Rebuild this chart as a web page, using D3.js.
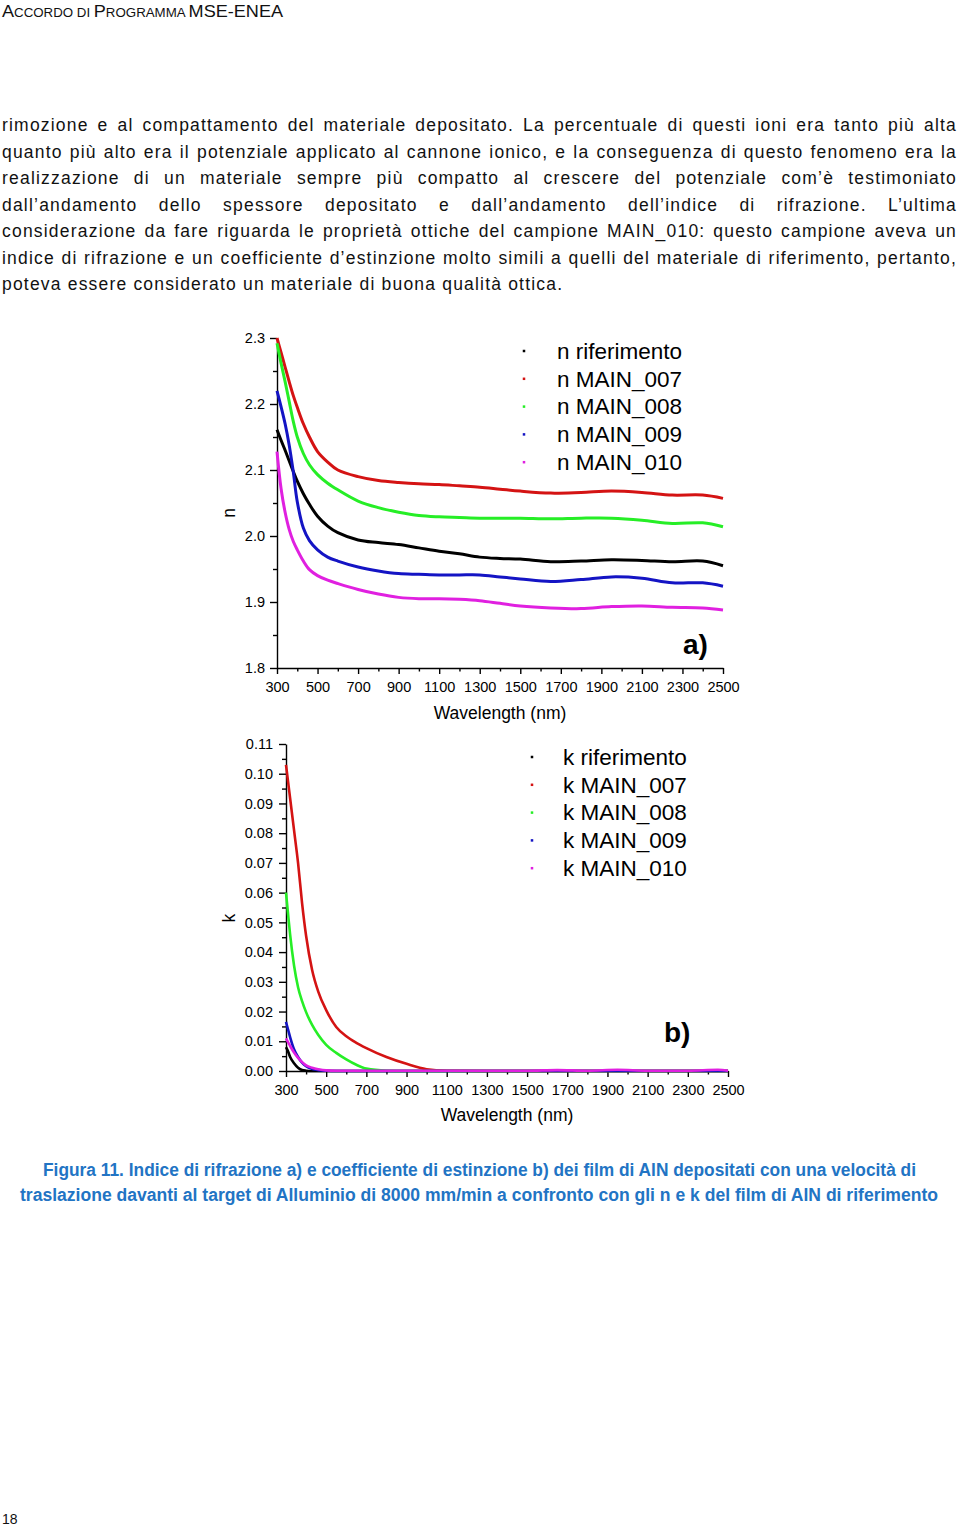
<!DOCTYPE html>
<html><head><meta charset="utf-8">
<script src="https://cdn.jsdelivr.net/npm/d3@7"></script>
<style>body{margin:0;background:#fff} svg{display:block}</style>
</head><body><svg id="c" width="960" height="1528"></svg>
<script>
// ---------- DATA ----------
const seriesNames = ["riferimento", "MAIN_007", "MAIN_008", "MAIN_009", "MAIN_010"];
const seriesColors = ["#000000", "#d41313", "#26ee26", "#1414c4", "#e020e0"];

const nWavelengths = [300,320,340,360,380,400,430,460,500,550,600,700,800,900,1000,1100,1200,1300,1400,1500,1650,1800,1950,2100,2250,2400,2500];
const nRiferimento = [2.161,2.145,2.130,2.114,2.098,2.083,2.064,2.048,2.030,2.015,2.005,1.994,1.990,1.987,1.982,1.977,1.973,1.968,1.966,1.965,1.961,1.962,1.964,1.963,1.961,1.962,1.955];
const nMain007    = [2.300,2.278,2.256,2.234,2.213,2.195,2.170,2.150,2.128,2.112,2.100,2.090,2.084,2.081,2.079,2.078,2.076,2.074,2.071,2.068,2.065,2.066,2.068,2.066,2.062,2.062,2.057];
const nMain008    = [2.292,2.262,2.234,2.204,2.174,2.150,2.125,2.108,2.093,2.080,2.070,2.053,2.043,2.036,2.031,2.029,2.028,2.027,2.027,2.027,2.026,2.027,2.027,2.024,2.019,2.020,2.014];
const nMain009    = [2.220,2.196,2.170,2.138,2.098,2.052,2.012,1.993,1.979,1.968,1.962,1.953,1.947,1.943,1.942,1.941,1.941,1.941,1.938,1.935,1.931,1.934,1.938,1.936,1.929,1.929,1.924];
const nMain010    = [2.128,2.072,2.036,2.010,1.992,1.979,1.962,1.949,1.940,1.933,1.928,1.919,1.912,1.907,1.905,1.905,1.904,1.902,1.898,1.894,1.891,1.890,1.893,1.894,1.892,1.891,1.888];

const kWavelengths = [300,310,320,340,360,380,400,430,460,500,550,600,650,700,800,900,1000,1100,1300,1500,1650,1800,1950,2100,2300,2450,2500];
const kRiferimento = [0.0080,0.0066,0.0048,0.0026,0.0011,0.0003,0.0001,0,0,0,0,0,0,0,0,0,0,0,0,0,0,0,0,0,0,0,0];
const kMain007    = [0.1030,0.0975,0.0920,0.0810,0.0700,0.0565,0.0455,0.0340,0.0268,0.0205,0.0148,0.0117,0.0095,0.0077,0.0047,0.0024,0.0006,0.0001,0,0,0,0,0,0,0,0,0];
const kMain008    = [0.0600,0.0530,0.0462,0.0355,0.0282,0.0235,0.0198,0.0155,0.0122,0.0088,0.0061,0.0039,0.0021,0.0008,0.0001,0,0,0,0,0,0,0,0,0,0,0,0];
const kMain009    = [0.0165,0.0140,0.0115,0.0073,0.0047,0.0028,0.0016,0.0007,0.0003,0.0001,0,0,0,0,0,0,0,0,0,0,0,0,0,0,0,0,0];
const kMain010    = [0.0110,0.0097,0.0085,0.0062,0.0044,0.0030,0.0019,0.0011,0.0006,0.0002,0.0001,0.0001,0.0001,0.0001,0.0001,0.0001,0.0001,0.0001,0.0001,0.0001,0.0003,0.0001,0.0004,0.0001,0.0001,0.0004,0.0001];

const xTickValues = [300,500,700,900,1100,1300,1500,1700,1900,2100,2300,2500];
const xMinorTicks = [400,600,800,1000,1200,1400,1600,1800,2000,2200,2400];
const nTickValues = [1.8,1.9,2.0,2.1,2.2,2.3];
const nMinorTicks = [1.85,1.95,2.05,2.15,2.25];
const kTickValues = [0,0.01,0.02,0.03,0.04,0.05,0.06,0.07,0.08,0.09,0.10,0.11];
const kMinorTicks = [0.005,0.015,0.025,0.035,0.045,0.055,0.065,0.075,0.085,0.095,0.105];

const bodyLines = [
 "rimozione e al compattamento del materiale depositato. La percentuale di questi ioni era tanto più alta",
 "quanto più alto era il potenziale applicato al cannone ionico, e la conseguenza di questo fenomeno era la",
 "realizzazione di un materiale sempre più compatto al crescere del potenziale com’è testimoniato",
 "dall’andamento dello spessore depositato e dall’andamento dell’indice di rifrazione. L’ultima",
 "considerazione da fare riguarda le proprietà ottiche del campione MAIN_010: questo campione aveva un",
 "indice di rifrazione e un coefficiente d’estinzione molto simili a quelli del materiale di riferimento, pertanto,",
 "poteva essere considerato un materiale di buona qualità ottica."
];
const captionLines = [
 "Figura 11. Indice di rifrazione a) e coefficiente di estinzione b) dei film di AlN depositati con una velocità di",
 "traslazione davanti al target di Alluminio di 8000 mm/min a confronto con gli n e k del film di AlN di riferimento"
];

// ---------- DRAW ----------
const svg = d3.select("#c");
const FONT = "'Liberation Sans', Arial, Helvetica, sans-serif";

// header
const hdr = svg.append("text").attr("x", 2).attr("y", 17).attr("font-family", FONT).attr("fill", "#111");
[["A",17],["CCORDO DI ",12.5],["P",17],["ROGRAMMA ",12.5],["MSE-ENEA",17]].forEach(([t,s]) =>
  hdr.append("tspan").attr("font-size", s).text(t));
hdr.attr("textLength", 281).attr("lengthAdjust", "spacingAndGlyphs");

// body text, justified
const bodyX0 = 2, bodyX1 = 957, bodyY0 = 131, bodyLH = 26.5, bodyLS = 1.2, minGap = 5;
bodyLines.forEach((line, i) => {
  const y = bodyY0 + i * bodyLH;
  if (i === bodyLines.length - 1) {
    svg.append("text").attr("x", bodyX0).attr("y", y).attr("font-family", FONT).attr("font-size", 17.5)
      .attr("fill", "#111").attr("textLength", 560).attr("lengthAdjust", "spacing").text(line);
    return;
  }
  const words = line.split(" ");
  let ls = bodyLS;
  let nodes, widths;
  const g = svg.append("g");
  for (let attempt = 0; attempt < 3; attempt++) {
    g.selectAll("*").remove();
    nodes = words.map(w => g.append("text").attr("y", y).attr("font-family", FONT).attr("font-size", 17.5)
      .attr("letter-spacing", ls).attr("fill", "#111").text(w));
    widths = nodes.map(n => n.node().getComputedTextLength());
    const sum = d3.sum(widths);
    const gap = (bodyX1 - bodyX0 - sum) / (words.length - 1);
    if (gap >= minGap - 0.2) break;
    const chars = d3.sum(words, w => w.length);
    ls = ls - (minGap * (words.length - 1) + sum - (bodyX1 - bodyX0)) / chars;
  }
  const sum = d3.sum(widths);
  const gap = (bodyX1 - bodyX0 - sum) / (words.length - 1);
  let x = bodyX0;
  nodes.forEach((n, j) => { n.attr("x", x); x += widths[j] + gap; });
});

function panel(cfg) {
  const x = d3.scaleLinear().domain([300, 2500]).range([cfg.x0, cfg.x1]);
  const y = d3.scaleLinear().domain(cfg.yDomain).range([cfg.y0, cfg.y1]);
  const g = svg.append("g").attr("font-family", FONT);

  // x axis
  g.append("g").attr("transform", `translate(0,${cfg.y0})`)
    .call(d3.axisBottom(x).tickValues(xTickValues).tickSize(6).tickSizeOuter(0).tickPadding(8).tickFormat(d3.format("d")));
  g.append("g").attr("transform", `translate(0,${cfg.y0})`)
    .call(d3.axisBottom(x).tickValues(xMinorTicks).tickSize(3.5).tickSizeOuter(0).tickFormat(""))
    .select(".domain").remove();
  // y axis
  g.append("g").attr("transform", `translate(${cfg.x0},0)`)
    .call(d3.axisLeft(y).tickValues(cfg.yTicks).tickSize(7).tickSizeOuter(0).tickPadding(cfg.yPad).tickFormat(d3.format(cfg.fmt)));
  g.append("g").attr("transform", `translate(${cfg.x0},0)`)
    .call(d3.axisLeft(y).tickValues(cfg.yMinor).tickSize(4).tickSizeOuter(0).tickFormat(""))
    .select(".domain").remove();
  g.selectAll(".domain, .tick line").attr("stroke", "#000").attr("stroke-width", 1.4);
  g.selectAll(".tick text").attr("font-size", 14.5).attr("font-family", FONT).attr("fill", "#000");

  // lines
  const line = d3.line().x((d, i) => x(cfg.wl[i])).y(d => y(d)).curve(cfg.curve);
  cfg.series.forEach((s, i) => {
    g.append("path").datum(s).attr("d", line).attr("fill", "none")
      .attr("stroke", seriesColors[i]).attr("stroke-width", cfg.lw).attr("stroke-linejoin", "round");
  });

  // titles
  g.append("text").attr("x", (cfg.x0 + cfg.x1) / 2).attr("y", cfg.xTitleY).attr("text-anchor", "middle")
    .attr("font-size", 17.5).text("Wavelength (nm)");
  g.append("text").attr("transform", `translate(${cfg.yTitleX},${cfg.yTitleY}) rotate(-90)`)
    .attr("text-anchor", "middle").attr("font-size", 17.5).text(cfg.yTitle);

  // legend
  seriesNames.forEach((nm, i) => {
    const ly = cfg.legY + i * 27.8;
    g.append("rect").attr("x", cfg.legDotX - 1.25).attr("y", ly - 1.25).attr("width", 2.5).attr("height", 2.5).attr("fill", seriesColors[i]);
    g.append("text").attr("x", cfg.legTextX).attr("y", ly).attr("dy", "0.35em").attr("font-size", 22.5)
      .attr("fill", "#000").text(cfg.yTitle + " " + nm);
  });
  g.append("text").attr("x", cfg.tagX).attr("y", cfg.tagY).attr("font-size", 28).attr("font-weight", "bold").text(cfg.tag);
}

panel({x0: 277, x1: 723, y0: 668, y1: 338, yDomain: [1.8, 2.3], yTicks: nTickValues, yMinor: nMinorTicks,
  fmt: ".1f", yPad: 5, wl: nWavelengths, series: [nRiferimento, nMain007, nMain008, nMain009, nMain010], lw: 3,
  curve: d3.curveCatmullRom.alpha(0.5),
  xTitleY: 719, yTitleX: 235, yTitleY: 513, yTitle: "n", legY: 351, legDotX: 524, legTextX: 557,
  tag: "a)", tagX: 683, tagY: 654});

panel({x0: 286, x1: 728, y0: 1071, y1: 744, yDomain: [0, 0.11], yTicks: kTickValues, yMinor: kMinorTicks,
  fmt: ".2f", yPad: 6, wl: kWavelengths, series: [kRiferimento, kMain007, kMain008, kMain009, kMain010], lw: 2.6,
  curve: d3.curveMonotoneX,
  xTitleY: 1121, yTitleX: 235, yTitleY: 918, yTitle: "k", legY: 757, legDotX: 532, legTextX: 563,
  tag: "b)", tagX: 664, tagY: 1042});

// caption
captionLines.forEach((t, i) => {
  const spans = [[43, 916], [20, 938]][i];
  svg.append("text").attr("x", spans[0]).attr("y", 1176 + i * 24.5)
    .attr("font-family", "'Liberation Sans Narrow', 'Liberation Sans', Arial, sans-serif")
    .attr("font-weight", "bold").attr("font-size", 17.5).attr("fill", "#2274c4")
    .attr("textLength", spans[1] - spans[0]).attr("lengthAdjust", "spacingAndGlyphs").text(t);
});

// page number
svg.append("text").attr("x", 2).attr("y", 1524).attr("font-family", FONT).attr("font-size", 14).attr("fill", "#111").text("18");
</script></body></html>
